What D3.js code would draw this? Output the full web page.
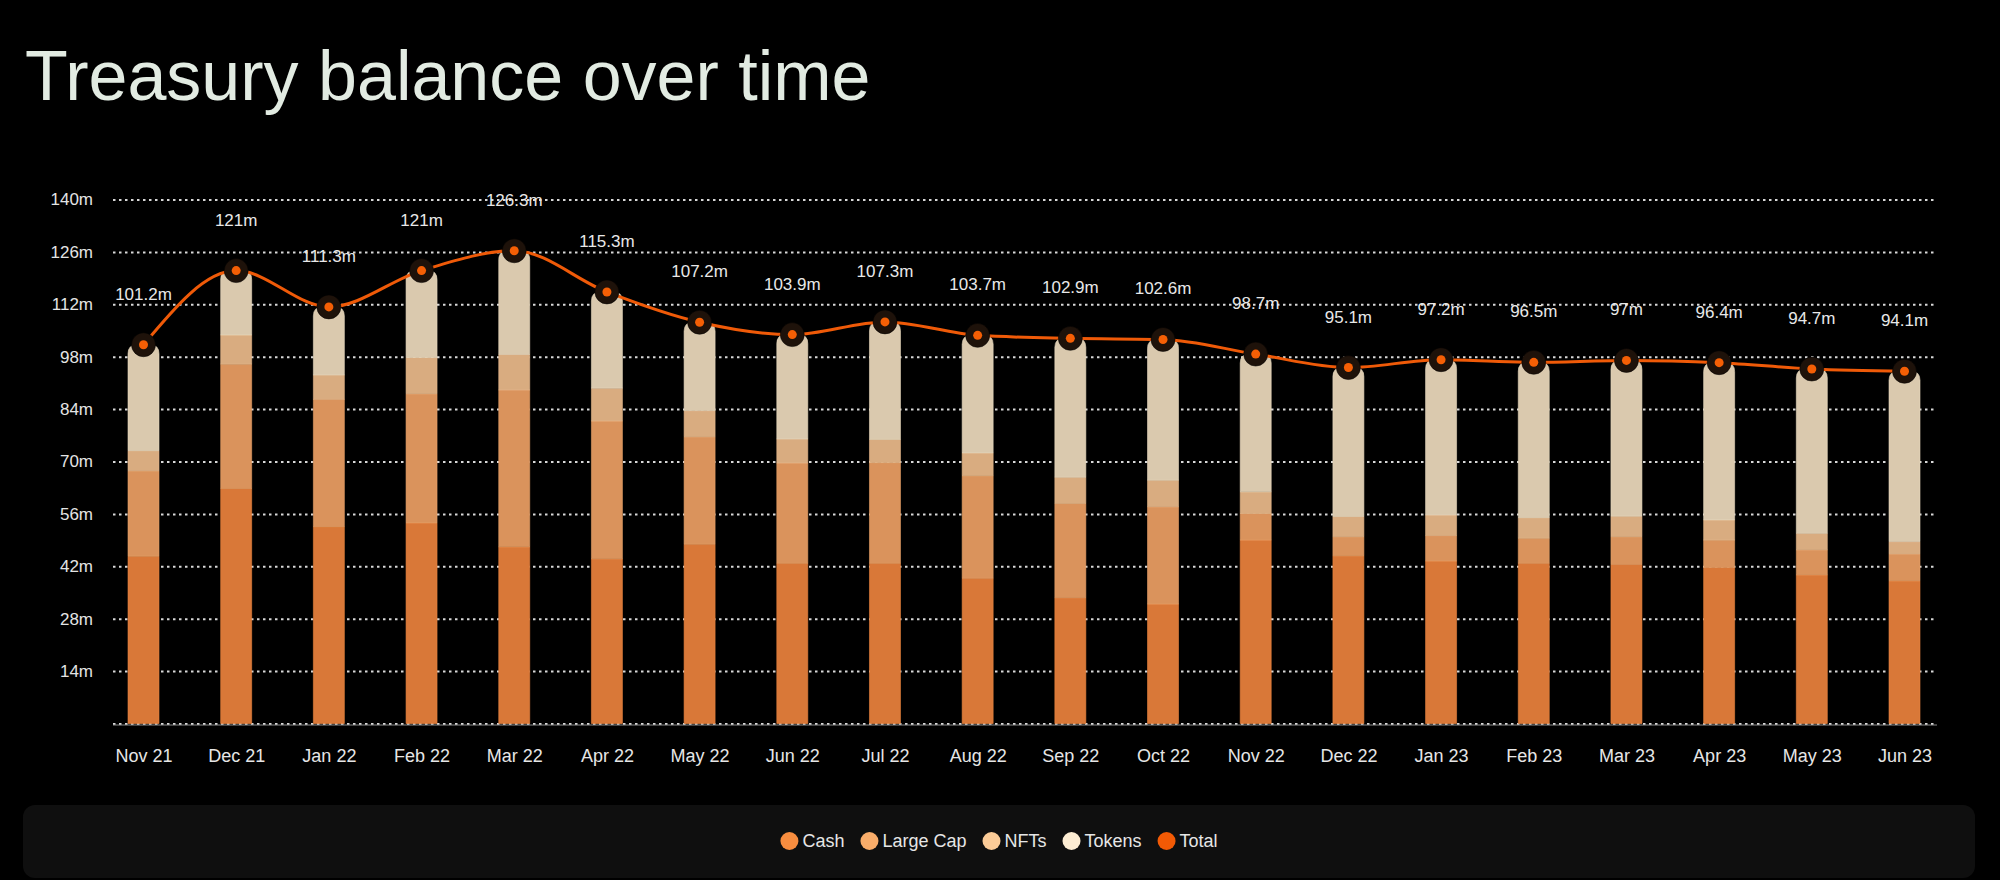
<!DOCTYPE html>
<html>
<head>
<meta charset="utf-8">
<script src="https://cdn.jsdelivr.net/npm/d3@7"></script>
<style>
  html, body { margin: 0; padding: 0; background: #000; }
  svg { display: block; font-family: "Liberation Sans", Arial, sans-serif; }
</style>
</head>
<body>
<svg id="chart" width="2000" height="880"></svg>
<script>
// Treasury balance (millions)
const months = ["Nov 21", "Dec 21", "Jan 22", "Feb 22", "Mar 22", "Apr 22", "May 22", "Jun 22", "Jul 22", "Aug 22",
  "Sep 22", "Oct 22", "Nov 22", "Dec 22", "Jan 23", "Feb 23", "Mar 23", "Apr 23", "May 23", "Jun 23"];
const cash = [44.7, 62.8, 52.6, 53.6, 47.2, 44.0, 47.9, 42.8, 42.8, 38.8, 33.6, 31.9, 49.0, 44.8, 43.4, 42.8, 42.5, 41.7, 39.7, 38.1];
const largeCap = [22.8, 33.2, 34.0, 34.5, 41.9, 36.8, 28.7, 26.8, 26.9, 27.4, 25.2, 26.0, 7.1, 5.1, 6.8, 6.7, 7.4, 7.3, 6.7, 7.2];
const nfts = [5.4, 7.8, 6.5, 9.7, 9.5, 8.8, 7.0, 6.4, 6.2, 6.1, 7.0, 7.1, 5.8, 5.4, 5.5, 5.5, 5.5, 5.4, 4.4, 3.3];
const tokens = [28.3, 17.2, 18.2, 23.2, 27.7, 25.7, 23.6, 27.9, 31.4, 31.4, 37.1, 37.6, 36.8, 39.8, 41.5, 41.5, 41.6, 42.0, 43.9, 45.5];
const totals = [101.2, 121, 111.3, 121, 126.3, 115.3, 107.2, 103.9, 107.3, 103.7, 102.9, 102.6, 98.7, 95.1, 97.2, 96.5, 97, 96.4, 94.7, 94.1];
const yTicks = [0, 14, 28, 42, 56, 70, 84, 98, 112, 126, 140];

const seriesKeys = ["Cash", "Large Cap", "NFTs", "Tokens"];
const barColors = { "Cash": "#d97838", "Large Cap": "#da935c", "NFTs": "#d9ac80", "Tokens": "#dac9ae" };
const barStroke = { "Cash": "#e8843f", "Large Cap": "#e6a068", "NFTs": "#e6b98c", "Tokens": "#e8d8be" };
const legendColors = { "Cash": "#f78d3f", "Large Cap": "#f9ad6a", "NFTs": "#fbcb97", "Tokens": "#fdedd3", "Total": "#f25a05" };

const table = months.map((m, i) => ({
  month: m, "Cash": cash[i], "Large Cap": largeCap[i], "NFTs": nfts[i], "Tokens": tokens[i], total: totals[i]
}));

const svg = d3.select('#chart');

// title
svg.append('text')
  .attr('x', 25)
  .attr('y', 100)
  .style('font-size', '70px')
  .style('fill', '#e2ebe2')
  .text('Treasury balance over time');

const x = d3.scalePoint().domain(months).range([143.5, 1904.5]);
const y = d3.scaleLinear().domain([0, 140]).range([723.5, 199.5]);
const barW = 31;

// grid + y labels
const yAxis = d3.axisLeft(y)
  .tickValues(yTicks)
  .tickSize(-(1937 - 113))
  .tickFormat(d => d === 0 ? '' : d + 'm');

const gy = svg.append('g')
  .attr('transform', 'translate(113,0)')
  .call(yAxis);
gy.select('.domain').remove();
gy.selectAll('.tick line')
  .attr('stroke', '#d8d8d8')
  .attr('stroke-width', 2)
  .attr('stroke-dasharray', '2.5,3.5');
gy.selectAll('.tick text')
  .attr('x', -20)
  .style('font-size', '17px')
  .style('fill', '#e4e4e4')
  .style('font-family', '"Liberation Sans", Arial, sans-serif');

// baseline
svg.append('line')
  .attr('x1', 113).attr('x2', 1937)
  .attr('y1', y(0) + 1.5).attr('y2', y(0) + 1.5)
  .attr('stroke', '#8a8a8a')
  .attr('stroke-width', 1);

// x labels
const xAxis = d3.axisBottom(x).tickSize(0);
const gx = svg.append('g')
  .attr('transform', `translate(0,${y(0)})`)
  .call(xAxis);
gx.select('.domain').remove();
gx.selectAll('.tick text')
  .attr('y', 26)
  .attr('dy', '0.71em')
  .style('font-size', '18px')
  .style('fill', '#e6e6e6')
  .style('font-family', '"Liberation Sans", Arial, sans-serif');

// stacked bars
const stacked = d3.stack().keys(seriesKeys)(table);

function roundedTop(x0, y0, w, h, r) {
  r = Math.min(r, h, w / 2);
  return `M${x0},${y0 + h} V${y0 + r} Q${x0},${y0} ${x0 + r},${y0} H${x0 + w - r} Q${x0 + w},${y0} ${x0 + w},${y0 + r} V${y0 + h} Z`;
}

stacked.forEach((layer, li) => {
  const key = layer.key;
  const isTop = li === stacked.length - 1;
  svg.append('g')
    .selectAll('path')
    .data(layer)
    .join('path')
    .attr('d', d => {
      const x0 = x(d.data.month) - barW / 2;
      const y0 = y(d[1]);
      const h = y(d[0]) - y(d[1]);
      return isTop ? roundedTop(x0, y0, barW, h, 9) : `M${x0},${y0}h${barW}v${h}h${-barW}Z`;
    })
    .attr('fill', barColors[key])
    .attr('stroke', barStroke[key])
    .attr('stroke-opacity', 0.6)
    .attr('stroke-width', 1);
});

// total line
const line = d3.line()
  .x(d => x(d.month))
  .y(d => y(d.total))
  .curve(d3.curveMonotoneX);

svg.append('path')
  .datum(table)
  .attr('d', line)
  .attr('fill', 'none')
  .attr('stroke', '#ef5a08')
  .attr('stroke-width', 3);

const dots = svg.append('g').selectAll('g')
  .data(table)
  .join('g')
  .attr('transform', d => `translate(${x(d.month)},${y(d.total)})`);

dots.append('circle')
  .attr('r', 12)
  .attr('fill', '#1e120a')
  .attr('stroke', '#000')
  .attr('stroke-opacity', 0.5)
  .attr('stroke-width', 1);

dots.append('circle')
  .attr('r', 4.5)
  .attr('fill', '#f55f05');

// value labels
svg.append('g').selectAll('text')
  .data(table)
  .join('text')
  .attr('x', d => x(d.month))
  .attr('y', d => y(d.total) - 45)
  .attr('text-anchor', 'middle')
  .style('font-size', '17px')
  .style('fill', '#e8e8e8')
  .text(d => d.total + 'm');

// legend box
svg.append('rect')
  .attr('x', 23).attr('y', 805)
  .attr('width', 1952).attr('height', 73)
  .attr('rx', 12)
  .attr('fill', '#0f0f0f');

const legendKeys = ["Cash", "Large Cap", "NFTs", "Tokens", "Total"];
const legend = svg.append('g');
let lx = 0;
legendKeys.forEach((k, i) => {
  const item = legend.append('g').attr('transform', `translate(${lx},0)`);
  item.append('circle')
    .attr('cx', 9).attr('cy', 0).attr('r', 9)
    .attr('fill', legendColors[k]);
  const t = item.append('text')
    .attr('x', 22)
    .attr('dy', '0.35em')
    .style('font-size', '18px')
    .style('fill', '#e6e6e6')
    .text(k);
  lx += 22 + t.node().getComputedTextLength() + 16;
});
const legendW = lx - 16;
legend.attr('transform', `translate(${999 - legendW / 2},841)`);
</script>
</body>
</html>
